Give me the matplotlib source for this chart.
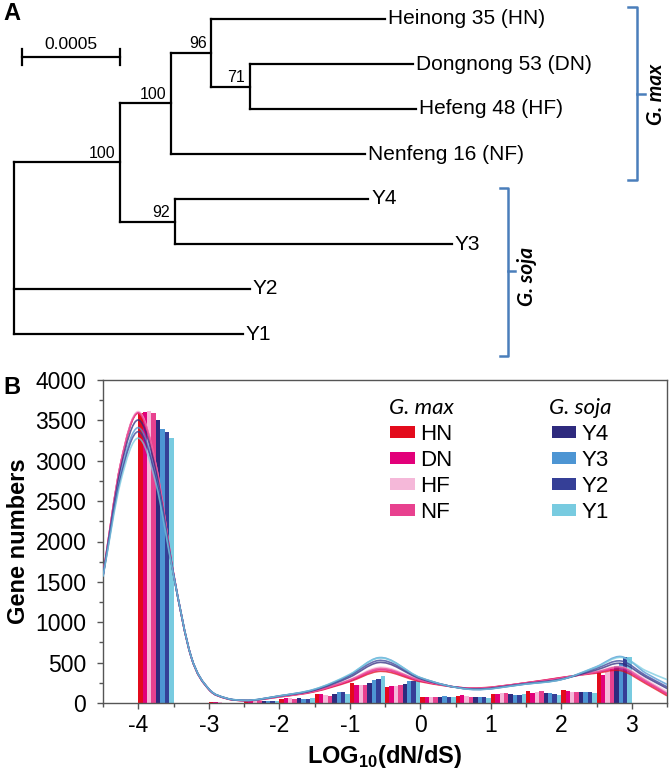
import numpy as np
import matplotlib
matplotlib.use('Agg')
import matplotlib.pyplot as plt
from matplotlib.path import Path
from matplotlib.patches import PathPatch, Patch

plt.rcParams['font.family'] = ['Liberation Sans', 'DejaVu Sans']
plt.rcParams['mathtext.fontset'] = 'custom'
plt.rcParams['mathtext.rm'] = 'Liberation Sans'
plt.rcParams['mathtext.bf'] = 'Liberation Sans:bold'
plt.rcParams['axes.unicode_minus'] = False

# ---------------- panel A: tree data ----------------
tip_names = ['HN', 'DN', 'HF', 'NF', 'Y4', 'Y3', 'Y2', 'Y1']
tip_labels = ['Heinong 35 (HN)', 'Dongnong 53 (DN)', 'Hefeng 48 (HF)', 'Nenfeng 16 (NF)',
              'Y4', 'Y3', 'Y2', 'Y1']
node_names = ['A', 'B', 'D', 'E', 'C', 'HN', 'DN', 'HF', 'NF', 'Y4', 'Y3', 'Y2', 'Y1']
node_parents = ['root', 'A', 'B', 'D', 'A', 'D', 'E', 'E', 'B', 'C', 'C', 'root', 'root']
branch_lengths = [0.000537, 0.000263, 0.000203, 0.000195, 0.000281,
                  0.000885, 0.000834, 0.000845, 0.000987, 0.000985, 0.001409,
                  0.001200, 0.001163]
support_nodes = ['A', 'B', 'D', 'E', 'C']
support_values = [100, 100, 96, 71, 92]
scale_len = 0.0005

# ---------------- panel B: dN/dS data ----------------
series = ['HN', 'DN', 'HF', 'NF', 'Y4', 'Y3', 'Y2', 'Y1']
colors = ['#e30b1c', '#e2007a', '#f5b8d9', '#e8418f', '#2e2a7e', '#4d95d3', '#353f97', '#78cbe0']
bin_starts = [-4.0, -3.5, -3.0, -2.5, -2.0, -1.5, -1.0, -0.5, 0.0, 0.5, 1.0, 1.5, 2.0, 2.5]
counts = {
    'HN': [3590, 2, 8, 30, 55, 115, 245, 195, 80, 85, 110, 150, 160, 375],
    'DN': [3600, 2, 10, 40, 65, 110, 225, 205, 80, 95, 115, 130, 145, 345],
    'HF': [3610, 1, 8, 35, 60, 105, 220, 210, 75, 85, 125, 140, 140, 390],
    'NF': [3590, 1, 6, 30, 55, 90, 220, 220, 75, 75, 130, 145, 140, 425],
    'Y4': [3500, 1, 5, 25, 60, 115, 250, 240, 80, 80, 115, 130, 140, 455],
    'Y3': [3390, 1, 5, 25, 50, 135, 290, 275, 85, 80, 105, 120, 140, 490],
    'Y2': [3350, 1, 5, 25, 50, 135, 300, 275, 80, 70, 95, 110, 135, 575],
    'Y1': [3280, 1, 4, 20, 65, 115, 335, 275, 80, 65, 110, 105, 130, 575],
}
curve_x = [-4.5, -4.25, -4.0, -3.75, -3.5, -3.25, -3.0, -2.75, -2.5, -2.0, -1.5,
           -1.0, -0.6, 0.0, 0.7, 1.5, 2.0, 2.5, 2.85, 3.2, 3.5]
curves = {
    'HN': [1580, 2960, 3590, 2940, 1600, 570, 170, 55, 30, 75, 140, 265, 390, 265, 185, 250, 315, 370, 400, 240, 90],
    'DN': [1580, 2965, 3600, 2950, 1605, 572, 170, 56, 30, 78, 145, 275, 410, 275, 182, 250, 312, 380, 420, 260, 110],
    'HF': [1585, 2970, 3610, 2955, 1610, 575, 172, 57, 31, 80, 150, 290, 440, 285, 180, 245, 305, 390, 450, 290, 140],
    'NF': [1580, 2962, 3590, 2945, 1600, 572, 170, 56, 30, 80, 148, 285, 425, 282, 182, 248, 310, 385, 440, 275, 120],
    'Y4': [1575, 2900, 3505, 2880, 1595, 575, 172, 58, 32, 85, 160, 320, 500, 300, 175, 240, 295, 410, 490, 320, 180],
    'Y3': [1570, 2830, 3410, 2810, 1590, 575, 175, 60, 33, 88, 170, 350, 560, 315, 170, 235, 290, 450, 575, 370, 230],
    'Y2': [1570, 2790, 3360, 2780, 1590, 575, 175, 60, 33, 87, 165, 340, 525, 310, 172, 237, 292, 430, 520, 340, 200],
    'Y1': [1565, 2740, 3280, 2720, 1585, 575, 175, 60, 34, 88, 170, 355, 555, 315, 170, 235, 290, 445, 565, 400, 290],
}

W, H = 670, 771
fig = plt.figure(figsize=(W / 100, H / 100), dpi=100)

# overlay axes in pixel coords for letters and brackets
ax_o = fig.add_axes([0, 0, 1, 1])
ax_o.set_xlim(0, W)
ax_o.set_ylim(H, 0)
ax_o.axis('off')

# ---------------- tree ----------------
px_per_unit = 98.3 / scale_len
root_px, row0_px, row_px = 14, 19, 45
ax_t = fig.add_axes([0, 1 - 360 / H, 1, 360 / H])
ax_t.set_xlim(-root_px / px_per_unit, (W - root_px) / px_per_unit)
ax_t.set_ylim((360 - row0_px) / row_px, -row0_px / row_px)
ax_t.axis('off')

parent = dict(zip(node_names, node_parents))
blen = dict(zip(node_names, branch_lengths))
children = {}
for n in node_names:
    children.setdefault(parent[n], []).append(n)

xpos = {'root': 0.0}
def place(n):
    for c in children.get(n, []):
        xpos[c] = xpos[n] + blen[c]
        place(c)
place('root')

ypos = {}
def row(n):
    if n in tip_names:
        ypos[n] = tip_names.index(n)
    else:
        ys = [row(c) for c in children[n]]
        ypos[n] = (min(ys) + max(ys)) / 2
    return ypos[n]
row('root')

lk = dict(color='black', lw=1.6, solid_capstyle='projecting')
for n in node_names:
    ax_t.plot([xpos[parent[n]], xpos[n]], [ypos[n], ypos[n]], **lk)
for n, ch in children.items():
    ys = [ypos[c] for c in ch]
    ax_t.plot([xpos[n], xpos[n]], [min(ys), max(ys)], **lk)

dx = 3 / px_per_unit
for t, lab in zip(tip_names, tip_labels):
    ax_t.text(xpos[t] + dx, ypos[t], lab, fontsize=15, va='center', ha='left')
for n, v in zip(support_nodes, support_values):
    ax_t.text(xpos[n] - 1.5 * dx, ypos[n] - 0.04, str(v), fontsize=11.5, ha='right', va='bottom')

# scale bar
sb_x0 = 7.7 / px_per_unit
sb_y = (57 - row0_px) / row_px
ax_t.plot([sb_x0, sb_x0 + scale_len], [sb_y, sb_y], **lk)
for xx in [sb_x0, sb_x0 + scale_len]:
    ax_t.plot([xx, xx], [sb_y - 0.17, sb_y + 0.17], **lk)
ax_t.text(sb_x0 + scale_len / 2, sb_y - 0.12, str(scale_len), fontsize=12.5, ha='center', va='bottom')

# brackets
bc = '#4a7ebb'
ax_o.plot([628, 637, 637, 628], [7, 7, 180, 180], color=bc, lw=1.8)
ax_o.plot([637, 645], [94, 94], color=bc, lw=1.8)
ax_o.plot([500, 508, 508, 500], [188, 188, 356, 356], color=bc, lw=1.8)
ax_o.plot([508, 515], [271, 271], color=bc, lw=1.8)
ax_o.text(656, 94, 'G. max', rotation=90, ha='center', va='center', fontsize=15,
          family='Lato', fontstyle='italic', fontweight='bold')
ax_o.text(527, 276, 'G. soja', rotation=90, ha='center', va='center', fontsize=15,
          family='Lato', fontstyle='italic', fontweight='bold')

ax_o.text(3, 14, 'A', fontsize=17, fontweight='bold', va='center', ha='left')
ax_o.text(3, 387, 'B', fontsize=17, fontweight='bold', va='center', ha='left')

# ---------------- bars + curves ----------------
ax = fig.add_axes([103 / W, 1 - 703 / H, 564 / W, 323 / H])
bw = 0.5 / len(series)
for i, (s, c) in enumerate(zip(series, colors)):
    ax.bar(np.array(bin_starts) + i * bw, counts[s], width=bw, align='edge',
           color=c, edgecolor='none', zorder=2)

def smooth_path(xs, ys):
    xs = np.asarray(xs, float)
    ys = np.asarray(ys, float)
    m = np.gradient(ys, xs)
    verts = [(xs[0], ys[0])]
    codes = [Path.MOVETO]
    for i in range(len(xs) - 1):
        h = xs[i + 1] - xs[i]
        verts += [(xs[i] + h / 3, ys[i] + m[i] * h / 3),
                  (xs[i + 1] - h / 3, ys[i + 1] - m[i + 1] * h / 3),
                  (xs[i + 1], ys[i + 1])]
        codes += [Path.CURVE4] * 3
    return Path(verts, codes)

for s, c in zip(series, colors):
    ax.add_patch(PathPatch(smooth_path(curve_x, curves[s]), facecolor='none',
                           edgecolor=c, lw=1.2, alpha=0.75, zorder=3))

ax.set_xlim(-4.5, 3.5)
ax.set_ylim(0, 4000)
ax.set_xticks(range(-4, 4))
ax.set_xticks(np.arange(-4.5, 3.6, 0.5), minor=True)
ax.set_yticks(range(0, 4001, 500))
ax.set_yticks(range(0, 4001, 250), minor=True)
ax.tick_params(axis='both', which='both', direction='out', color='#555555', width=1)
ax.tick_params(axis='both', which='major', length=4, labelsize=16.5)
ax.tick_params(axis='both', which='minor', length=3)
ax.tick_params(axis='y', pad=8)
ax.tick_params(axis='x', pad=4)
for sp in ax.spines.values():
    sp.set_color('#555555')
    sp.set_linewidth(1.0)
ax.set_ylabel('Gene numbers', fontsize=17, fontweight='bold', labelpad=4)
ax.set_xlabel(r'LOG$_{\mathbf{10}}$(dN/dS)', fontsize=17, fontweight='bold', labelpad=4)

handles = [Patch(facecolor=c, edgecolor='none') for c in colors]
leg_kw = dict(frameon=False, fontsize=16, handlelength=1.1, handleheight=0.45,
              handletextpad=0.25, labelspacing=0.23, borderpad=0, borderaxespad=0,
              loc='upper left',
              title_fontproperties={'family': 'Lato', 'style': 'italic', 'size': 16})
leg1 = ax.legend(handles[:4], series[:4], title='G. max', bbox_to_anchor=(0.507, 0.943), **leg_kw)
ax.add_artist(leg1)
ax.legend(handles[4:], series[4:], title='G. soja', bbox_to_anchor=(0.791, 0.943), **leg_kw)

fig.savefig('out.png', dpi=100)
